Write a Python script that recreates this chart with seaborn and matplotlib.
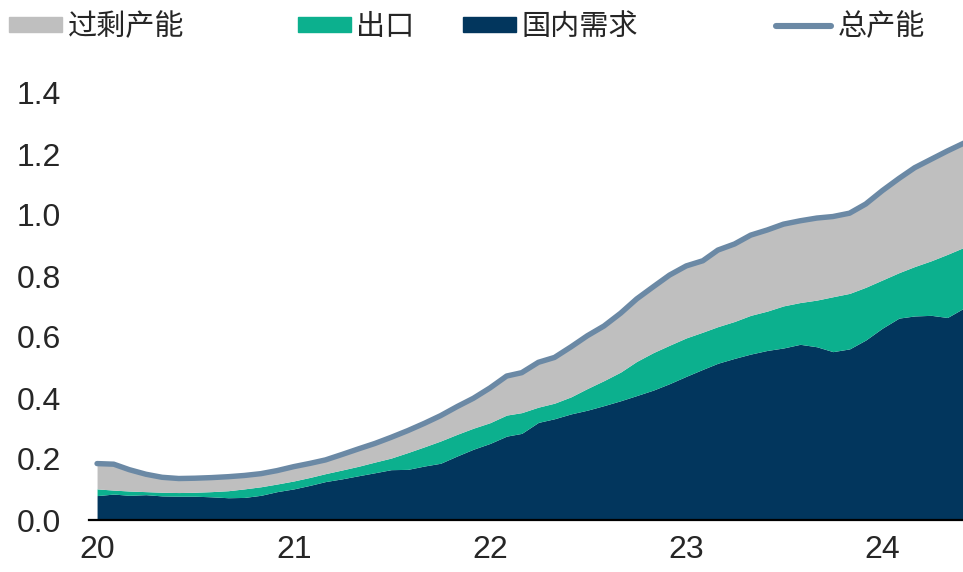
import numpy as np
import pandas as pd
import matplotlib
matplotlib.use("Agg")
import matplotlib.pyplot as plt
from matplotlib.patches import Patch
from matplotlib.lines import Line2D
import seaborn as sns

# monthly, Jan 2020 - Jun 2024
months = pd.date_range("2020-01-01", "2024-06-01", freq="MS")

domestic = [0.080, 0.085, 0.081, 0.083, 0.079, 0.078, 0.078, 0.076, 0.073, 0.074, 0.081, 0.093,
            0.102, 0.114, 0.126, 0.135, 0.145, 0.155, 0.165, 0.166, 0.177, 0.186, 0.210, 0.232,
            0.251, 0.275, 0.284, 0.320, 0.332, 0.348, 0.360, 0.375, 0.391, 0.408, 0.426, 0.447,
            0.471, 0.494, 0.514, 0.530, 0.544, 0.556, 0.564, 0.576, 0.568, 0.552, 0.561, 0.590,
            0.629, 0.662, 0.669, 0.671, 0.664, 0.695]
exports = [0.022, 0.013, 0.014, 0.010, 0.012, 0.012, 0.013, 0.017, 0.023, 0.028, 0.028, 0.025,
           0.026, 0.026, 0.026, 0.029, 0.031, 0.035, 0.038, 0.055, 0.063, 0.073, 0.071, 0.069,
           0.068, 0.069, 0.068, 0.050, 0.051, 0.056, 0.071, 0.082, 0.094, 0.112, 0.123, 0.126,
           0.126, 0.122, 0.120, 0.121, 0.127, 0.129, 0.138, 0.137, 0.153, 0.180, 0.182, 0.173,
           0.158, 0.149, 0.162, 0.179, 0.207, 0.199]
total_capacity = [0.185, 0.183, 0.165, 0.150, 0.140, 0.136, 0.137, 0.139, 0.142, 0.146, 0.152, 0.162,
                  0.175, 0.186, 0.197, 0.215, 0.233, 0.251, 0.271, 0.293, 0.317, 0.342, 0.372, 0.399,
                  0.433, 0.472, 0.483, 0.517, 0.533, 0.568, 0.604, 0.636, 0.678, 0.725, 0.765, 0.803,
                  0.833, 0.850, 0.885, 0.905, 0.934, 0.951, 0.970, 0.981, 0.990, 0.995, 1.006, 1.036,
                  1.080, 1.120, 1.155, 1.183, 1.210, 1.236]

year_ticks = [2020, 2021, 2022, 2023, 2024]
year_labels = ["20", "21", "22", "23", "24"]
y_ticks = [0.0, 0.2, 0.4, 0.6, 0.8, 1.0, 1.2, 1.4]

labels = ["过剩产能", "出口", "国内需求", "总产能"]
c_surplus = "#BFBFBF"
c_export = "#0CB08E"
c_domestic = "#02365D"
c_total = "#6B89A5"

df = pd.DataFrame({"date": months, "domestic": domestic, "exports": exports,
                   "total": total_capacity})
df["dom_exp"] = df["domestic"] + df["exports"]

sns.set_style("white")
plt.rcParams["font.family"] = ["Liberation Sans", "Noto Sans CJK SC", "DejaVu Sans"]

fig = plt.figure(figsize=(9.63, 5.72), dpi=100)
ax = fig.add_axes([89 / 963, 52 / 572, 874 / 963, 427 / 572])

ax.fill_between(df["date"], 0, df["domestic"], color=c_domestic, lw=0)
ax.fill_between(df["date"], df["domestic"], df["dom_exp"], color=c_export, lw=0)
ax.fill_between(df["date"], df["dom_exp"], df["total"], color=c_surplus, lw=0)
sns.lineplot(data=df, x="date", y="total", ax=ax, color=c_total, lw=3.9,
             solid_capstyle="round", legend=False)

ax.set_ylim(0, 1.4)
ax.set_yticks(y_ticks)
ax.set_yticklabels([f"{v:.1f}" for v in y_ticks])
ax.set_xlim(pd.Timestamp("2019-12-17"), months[-1] - pd.Timedelta(days=2))
ax.set_xticks([pd.Timestamp(f"{y}-01-01") for y in year_ticks])
ax.set_xticklabels(year_labels)
ax.set_xlabel("")
ax.set_ylabel("")
ax.tick_params(axis="y", length=0, pad=20, labelsize=23)
ax.tick_params(axis="x", length=0, pad=11, labelsize=23)

sns.despine(ax=ax, left=True)
ax.spines["bottom"].set_color("black")
ax.spines["bottom"].set_linewidth(1.6)
ax.spines["bottom"].set_zorder(5)

# legend entries placed one by one to match the uneven spacing
handles = [Patch(color=c_surplus), Patch(color=c_export), Patch(color=c_domestic),
           Line2D([], [], color=c_total, lw=4.4, solid_capstyle="round")]
x_pos = [9, 298, 463, 776]
h_len = [1.8, 1.8, 1.8, 1.9]
h_pad = [0.22, 0.2, 0.2, 0.2]
for h, lab, xp, hl, hp in zip(handles, labels, x_pos, h_len, h_pad):
    fig.legend([h], [lab], loc="upper left", bbox_to_anchor=(xp / 963, 1 - 13 / 572),
               frameon=False, fontsize=21, borderpad=0, borderaxespad=0,
               handlelength=hl, handleheight=0.45, handletextpad=hp)

fig.savefig("out.png", dpi=100)
